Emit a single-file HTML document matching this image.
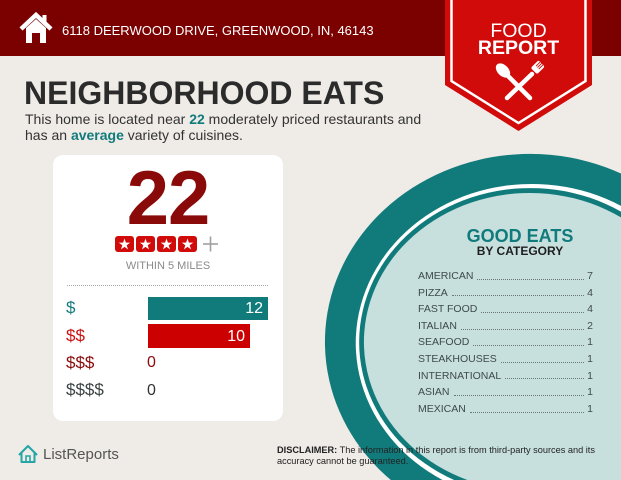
<!DOCTYPE html>
<html><head><meta charset="utf-8">
<style>
*{margin:0;padding:0;box-sizing:border-box}
html,body{width:621px;height:480px;overflow:hidden;background:#efebe7}
body{font-family:"Liberation Sans",sans-serif}
#w{position:absolute;left:0;top:0;width:621px;height:480px;overflow:hidden}
.a{position:absolute;white-space:nowrap}
svg{position:absolute;left:0;top:0;overflow:hidden;display:block}
.row{position:absolute;left:418px;width:175px;height:16.6px;display:flex;align-items:center;font-size:10.5px;color:#3e4a4a;line-height:16.6px}
.row .l{flex:0 0 auto}
.row .d{flex:1 1 auto;border-bottom:1px dotted #6b7676;margin:0 3px 0 4px;height:1px;position:relative;top:3px}
.row .n{flex:0 0 auto}
</style></head><body><div id="w">
<svg width="621" height="480" viewBox="0 0 621 480">
  <rect x="0" y="0" width="621" height="56" fill="#7b0000"/>
  <polyline points="21,29 36,15 51,29" fill="none" stroke="#fff" stroke-width="4.5" stroke-linejoin="miter"/>
  <rect x="42.5" y="15" width="4" height="8" fill="#fff"/>
  <path d="M26,28 L36,19 L46,28 L46,43 L40,43 L40,33 L32,33 L32,43 L26,43 Z" fill="#fff"/>
  <polygon points="445,0 592,0 592,85 518.5,131 445,85" fill="#d10a0a"/>
  <polyline points="451.5,0 451.5,81 518.5,123 585.5,81 585.5,0" fill="none" stroke="#fff" stroke-width="2.5"/>
  <line x1="507" y1="75" x2="530" y2="98" stroke="#fff" stroke-width="4.5" stroke-linecap="round"/>
  <ellipse cx="503" cy="70.5" rx="5.5" ry="8.5" fill="#fff" transform="rotate(-45 503 70.5)"/>
  <line x1="532" y1="74" x2="507" y2="98" stroke="#fff" stroke-width="4.5" stroke-linecap="round"/>
  <g transform="rotate(45 536 69)">
    <rect x="531.5" y="61" width="9" height="11" rx="2" fill="#fff"/>
    <line x1="534" y1="60" x2="534" y2="67" stroke="#d10a0a" stroke-width="0.9"/>
    <line x1="536" y1="60" x2="536" y2="67" stroke="#d10a0a" stroke-width="0.9"/>
    <line x1="538" y1="60" x2="538" y2="67" stroke="#d10a0a" stroke-width="0.9"/>
  </g>
  <path d="M621,173.5 A205 188 0 0 0 390.8,480 L621,480 Z" fill="#117b7c"/>
  <path d="M621,205.9 A176 159 0 1 0 442.5,480 L621,480 Z" fill="#ffffff"/>
  <path d="M621,211.6 A171 154 0 1 0 454.1,480 L621,480 Z" fill="#117b7c"/>
  <path d="M621,217.4 A166 149 0 1 0 467.4,480 L621,480 Z" fill="#c7e0de"/>
  <rect x="53" y="155" width="230" height="266" rx="10" ry="10" fill="#ffffff"/>
  <g>
    <rect x="115" y="236" width="19" height="16" rx="3" fill="#d10a0a"/>
    <rect x="136" y="236" width="19" height="16" rx="3" fill="#d10a0a"/>
    <rect x="157" y="236" width="19" height="16" rx="3" fill="#d10a0a"/>
    <rect x="178" y="236" width="19" height="16" rx="3" fill="#d10a0a"/>
    <g fill="#fff">
      <polygon transform="translate(124.5 244.5)" points="0,-6 1.4,-1.9 5.7,-1.9 2.2,0.7 3.5,4.9 0,2.4 -3.5,4.9 -2.2,0.7 -5.7,-1.9 -1.4,-1.9"/>
      <polygon transform="translate(145.5 244.5)" points="0,-6 1.4,-1.9 5.7,-1.9 2.2,0.7 3.5,4.9 0,2.4 -3.5,4.9 -2.2,0.7 -5.7,-1.9 -1.4,-1.9"/>
      <polygon transform="translate(166.5 244.5)" points="0,-6 1.4,-1.9 5.7,-1.9 2.2,0.7 3.5,4.9 0,2.4 -3.5,4.9 -2.2,0.7 -5.7,-1.9 -1.4,-1.9"/>
      <polygon transform="translate(187.5 244.5)" points="0,-6 1.4,-1.9 5.7,-1.9 2.2,0.7 3.5,4.9 0,2.4 -3.5,4.9 -2.2,0.7 -5.7,-1.9 -1.4,-1.9"/>
    </g>
    <line x1="203" y1="244" x2="218" y2="244" stroke="#a0a0a0" stroke-width="1.6"/>
    <line x1="210.5" y1="236.5" x2="210.5" y2="251.5" stroke="#a0a0a0" stroke-width="1.6"/>
  </g>
  <line x1="67" y1="285.5" x2="268" y2="285.5" stroke="#a8a8a8" stroke-width="1" stroke-dasharray="1 1"/>
  <rect x="148" y="297" width="120" height="23" fill="#117b7c"/>
  <rect x="148" y="324" width="102" height="24" fill="#cc0000"/>
  <path d="M19,455 L28,446 L37,455 M21.5,453 L21.5,462 L34.5,462 L34.5,453" fill="none" stroke="#25a6a6" stroke-width="2" stroke-linejoin="round"/>
  <path d="M26,462 L26,456 L30,456 L30,462" fill="none" stroke="#25a6a6" stroke-width="1.6"/>
</svg>

<div class="a" style="left:62px;top:22.5px;font-size:13px;line-height:16px;color:#fff">6118 DEERWOOD DRIVE, GREENWOOD, IN, 46143</div>

<div class="a" style="left:470px;width:97px;text-align:center;top:20px;font-size:19.5px;line-height:22px;color:#fff">FOOD</div>
<div class="a" style="left:470px;width:97px;text-align:center;top:36.6px;font-size:19.5px;line-height:22px;color:#fff;font-weight:bold">REPORT</div>

<div class="a" style="left:24px;top:77px;font-size:32px;line-height:32px;font-weight:bold;color:#2b2b2b">NEIGHBORHOOD EATS</div>

<div class="a" style="left:25px;top:111px;font-size:14px;line-height:16px;color:#333">This home is located near <b style="color:#117b7c">22</b> moderately priced restaurants and<br>has an <b style="color:#117b7c">average</b> variety of cuisines.</div>

<div class="a" style="left:53px;width:230px;text-align:center;top:160.7px;font-size:76px;line-height:76px;font-weight:bold;color:#8a0a0a;letter-spacing:-1px">22</div>

<div class="a" style="left:53px;width:230px;text-align:center;top:259.7px;font-size:11px;line-height:13px;color:#8a8a8a">WITHIN 5 MILES</div>

<div class="a" style="left:66px;top:297.7px;font-size:17px;line-height:20px;color:#117b7c">$</div>
<div class="a" style="left:66px;top:325.7px;font-size:17px;line-height:20px;color:#cc1111">$$</div>
<div class="a" style="left:66px;top:352.7px;font-size:17px;line-height:20px;color:#8a0a0a">$$$</div>
<div class="a" style="left:66px;top:379.7px;font-size:17px;line-height:20px;color:#3a4242">$$$$</div>

<div class="a" style="left:148px;width:115px;text-align:right;top:297px;font-size:16px;line-height:23px;color:#fff">12</div>
<div class="a" style="left:148px;width:97px;text-align:right;top:324.5px;font-size:16px;line-height:23px;color:#fff">10</div>
<div class="a" style="left:147px;top:353px;font-size:16px;line-height:20px;color:#8a0a0a">0</div>
<div class="a" style="left:147px;top:381px;font-size:16px;line-height:20px;color:#333">0</div>

<div class="a" style="left:420px;width:200px;text-align:center;top:225.8px;font-size:18px;line-height:20px;font-weight:bold;color:#117b7c">GOOD EATS</div>
<div class="a" style="left:420px;width:200px;text-align:center;top:244.3px;font-size:12px;line-height:14px;font-weight:bold;color:#1e1e1e">BY CATEGORY</div>

<div class="row" style="top:268px"><span class="l">AMERICAN</span><span class="d"></span><span class="n">7</span></div>
<div class="row" style="top:284.6px"><span class="l">PIZZA</span><span class="d"></span><span class="n">4</span></div>
<div class="row" style="top:301.2px"><span class="l">FAST FOOD</span><span class="d"></span><span class="n">4</span></div>
<div class="row" style="top:317.8px"><span class="l">ITALIAN</span><span class="d"></span><span class="n">2</span></div>
<div class="row" style="top:334.4px"><span class="l">SEAFOOD</span><span class="d"></span><span class="n">1</span></div>
<div class="row" style="top:351px"><span class="l">STEAKHOUSES</span><span class="d"></span><span class="n">1</span></div>
<div class="row" style="top:367.6px"><span class="l">INTERNATIONAL</span><span class="d"></span><span class="n">1</span></div>
<div class="row" style="top:384.2px"><span class="l">ASIAN</span><span class="d"></span><span class="n">1</span></div>
<div class="row" style="top:400.8px"><span class="l">MEXICAN</span><span class="d"></span><span class="n">1</span></div>

<div class="a" style="left:277px;top:445.3px;font-size:9.2px;line-height:11px;color:#222"><b>DISCLAIMER:</b> The information in this report is from third-party sources and its<br>accuracy cannot be guaranteed.</div>

<div class="a" style="left:43px;top:445.8px;font-size:15px;line-height:18px;color:#555">ListReports</div>
</div></body></html>
